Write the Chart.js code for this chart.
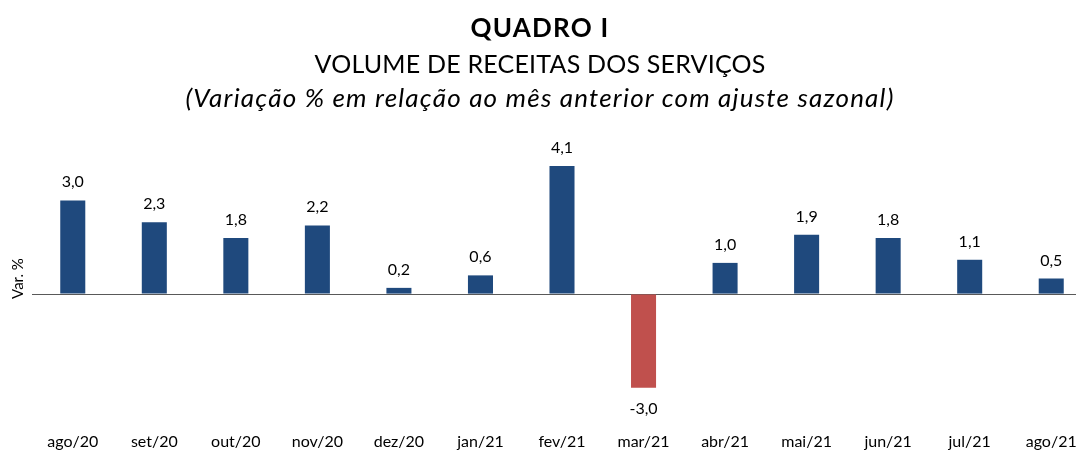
<!DOCTYPE html>
<html>
<head>
<meta charset="utf-8">
<script src="https://cdn.jsdelivr.net/npm/chart.js@4"></script>
<style>
  body { margin: 0; overflow: hidden; background: #fff; }
  #quadro { position: relative; width: 1092px; height: 453px; }
  .titulo { position: absolute; left: 0; width: 1080px; text-align: center; font-family: Lato, sans-serif; color: #000; line-height: 28px; white-space: nowrap; }
</style>
</head>
<body>
<div id="quadro">
  <canvas id="graficoBarra"></canvas>
  <div class="titulo" style="top: 13px; font-size: 26px; font-weight: bold; letter-spacing: 1.2px;">QUADRO I</div>
  <div class="titulo" style="top: 49px; font-size: 25px; letter-spacing: 0.2px;">VOLUME DE RECEITAS DOS SERVIÇOS</div>
  <div class="titulo" style="top: 83px; font-size: 26px; font-style: italic; letter-spacing: 1.2px;">(Variação % em relação ao mês anterior com ajuste sazonal)</div>
</div>
<script>
const meses = ["ago/20", "set/20", "out/20", "nov/20", "dez/20", "jan/21", "fev/21", "mar/21", "abr/21", "mai/21", "jun/21", "jul/21", "ago/21"];
const variacao = [3.0, 2.3, 1.8, 2.2, 0.2, 0.6, 4.1, -3.0, 1.0, 1.9, 1.8, 1.1, 0.5];
const eixoMin = -4;
const eixoMax = 5;

let cores = [];
for (let i = 0; i < variacao.length; i++) {
  if (variacao[i] < 0) {
    cores.push("#C0504D");
  } else {
    cores.push("#1F497D");
  }
}

// rotulos de valor em cima/embaixo das barras
const rotulos = {
  id: "rotulos",
  afterDatasetsDraw(chart) {
    const ctx = chart.ctx;
    const barras = chart.getDatasetMeta(0).data;
    ctx.save();
    ctx.font = "16px Lato";
    ctx.fillStyle = "#000";
    ctx.textAlign = "center";
    ctx.textBaseline = "alphabetic";
    for (let i = 0; i < barras.length; i++) {
      let v = variacao[i];
      let texto = v.toFixed(1).replace(".", ",");
      if (v >= 0) {
        ctx.fillText(texto, barras[i].x, barras[i].y - 13);
      } else {
        ctx.fillText(texto, barras[i].x, barras[i].y + 26);
      }
    }
    ctx.restore();
  },
};

new Chart(document.getElementById("graficoBarra"), {
  type: "bar",
  data: {
    labels: meses,
    datasets: [
      {
        data: variacao,
        backgroundColor: cores,
        barPercentage: 0.307,
        categoryPercentage: 1,
      },
    ],
  },
  plugins: [rotulos],
  options: {
    responsive: true,
    maintainAspectRatio: false,
    animation: false,
    layout: {
      padding: { top: 138, left: 0, right: 0, bottom: 0 },
    },
    plugins: {
      legend: { display: false },
      tooltip: { enabled: false },
    },
    scales: {
      x: {
        grid: { display: false, drawTicks: false },
        border: { display: false },
        ticks: {
          color: "#000",
          padding: 13,
          font: { family: "Lato", size: 16 },
        },
        afterFit: function (axis) {
          axis.height = 34;
        },
      },
      y: {
        min: eixoMin,
        max: eixoMax,
        ticks: { display: false, stepSize: 1 },
        border: { display: false },
        grid: {
          drawTicks: false,
          color: function (c) {
            return c.tick && c.tick.value === 0 ? "#595959" : "transparent";
          },
        },
        title: {
          display: true,
          text: "Var. %",
          color: "#000",
          padding: { top: 9, bottom: 0 },
          font: { family: "Lato", size: 15 },
        },
        afterFit: function (axis) {
          axis.width = 32;
        },
      },
    },
  },
});
</script>
</body>
</html>
